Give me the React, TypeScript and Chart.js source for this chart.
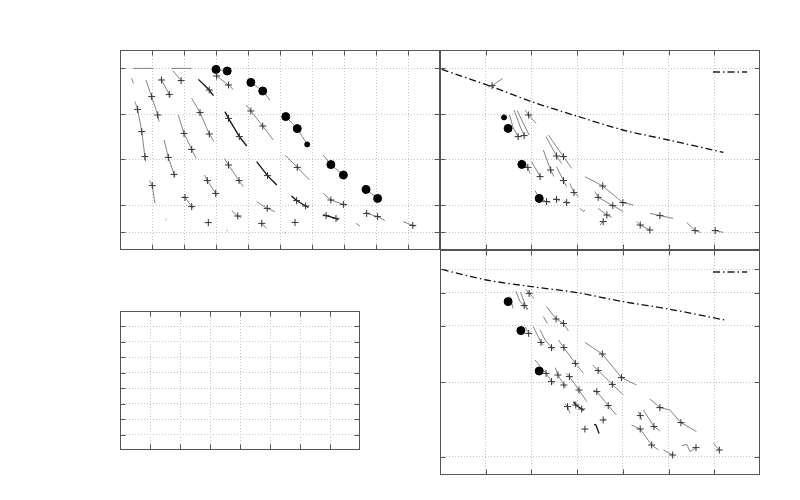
import React, { useEffect, useRef } from "react";
import { Chart, registerables } from "chart.js";
Chart.register(...registerables);

// marker codes: 0 none, 1 cross, 2 filled dot, 3 small dot
type Pt = [number, number, number];

const p1XTicks = [1, 2, 3, 4, 5, 6, 7, 8, 9];
const p1YTicks = [0.9, 2.25, 4.55, 6.8, 9.1];
const p2XTicks = [1, 2, 3, 4, 5, 6];
const p2YTicks = [0.9, 2.25, 4.55, 6.8, 9.1];
const p3XTicks = [1, 2, 3, 4, 5, 6];
const p3YTicks = [0.92, 4.63, 7.47, 9.12, 10.28];
const p4XTicks = [1, 2, 3, 4, 5, 6, 7];
const p4YTicks = [1, 2, 3, 4, 5, 6, 7, 8];

const p1Tracks: Pt[][] = [
  [[1.65, 8.97, 0], [1.91, 8.47, 1]],
  [[1.61, 9.08, 0], [2.24, 9.08, 0]],
  [[0.42, 9.08, 0], [1.04, 9.08, 0]],
  [[0.36, 8.58, 0], [0.42, 8.33, 0]],
  [[1.25, 8.58, 0], [1.3, 8.5, 1], [1.54, 7.78, 1], [1.58, 7.67, 0]],
  [[0.81, 8.5, 0], [0.99, 7.67, 1], [1.18, 6.75, 1], [1.22, 6.42, 0]],
  [[0.47, 7.42, 0], [0.55, 7.03, 1], [0.68, 5.92, 1], [0.78, 4.67, 1], [0.8, 4.42, 0]],
  [[2.45, 8.53, 0], [2.79, 8.0, 1], [2.92, 7.72, 0]],
  [[3.0, 8.85, 0], [3.02, 8.7, 1], [3.39, 8.25, 1], [3.54, 8.03, 0]],
  [[2.24, 7.58, 0], [2.5, 6.87, 1], [2.79, 5.8, 1], [2.94, 5.42, 0]],
  [[1.82, 6.75, 0], [2.0, 5.83, 1], [2.24, 5.03, 1], [2.38, 4.58, 0]],
  [[3.28, 6.92, 0], [3.39, 6.58, 1], [3.73, 5.67, 1], [3.96, 5.2, 0]],
  [[3.94, 7.25, 0], [4.09, 6.95, 1], [4.46, 6.2, 1], [4.79, 5.5, 0]],
  [[1.38, 5.5, 0], [1.51, 4.63, 1], [1.69, 3.78, 1], [1.72, 3.67, 0]],
  [[0.92, 3.47, 0], [1.01, 3.22, 1], [1.09, 2.33, 0]],
  [[3.26, 4.58, 0], [3.39, 4.25, 1], [3.72, 3.47, 1], [3.85, 3.17, 0]],
  [[4.27, 4.42, 0], [4.61, 3.72, 1], [4.9, 3.25, 0]],
  [[5.16, 4.75, 0], [5.54, 4.13, 1], [5.92, 3.5, 0]],
  [[2.64, 3.75, 0], [2.73, 3.47, 1], [2.99, 2.83, 1], [3.04, 2.7, 0]],
  [[1.98, 2.67, 0], [2.03, 2.63, 1], [2.24, 2.17, 1], [2.29, 2.08, 0]],
  [[5.36, 2.7, 0], [5.52, 2.47, 1], [5.8, 2.2, 1], [5.89, 2.13, 0]],
  [[4.27, 2.42, 0], [4.6, 2.08, 1], [4.84, 1.92, 0]],
  [[6.35, 2.83, 0], [6.59, 2.5, 1], [6.98, 2.28, 1], [7.08, 2.22, 0]],
  [[3.49, 1.97, 0], [3.68, 1.7, 1], [3.8, 1.63, 0]],
  [[6.35, 1.75, 0], [6.44, 1.72, 1], [6.75, 1.58, 1], [6.82, 1.5, 0]],
  [[7.66, 1.87, 0], [7.71, 1.83, 1], [8.05, 1.67, 1], [8.28, 1.47, 0]],
  [[7.38, 1.33, 0], [7.5, 1.2, 0]],
  [[8.85, 1.42, 0], [9.15, 1.23, 1], [9.22, 1.17, 0]],
  [[2.76, 1.37, 1]],
  [[4.43, 1.33, 1], [4.58, 1.08, 0]],
  [[5.47, 1.38, 1]],
  [[3.33, 0.99, 0], [3.37, 0.95, 0]],
  [[5.14, 0.85, 0], [5.18, 0.89, 0]],
  [[1.42, 1.5, 0], [1.46, 1.56, 0]],
  [[3.0, 9.03, 2], [3.35, 8.95, 2]],
  [[4.09, 8.38, 2], [4.46, 7.95, 2], [4.69, 7.5, 0]],
  [[5.18, 6.67, 2], [5.54, 6.07, 2], [5.85, 5.28, 3]],
  [[6.35, 4.75, 0], [6.59, 4.27, 2], [6.98, 3.75, 2]],
  [[7.69, 3.03, 2], [8.05, 2.58, 2]],
];
const p1Bold = [7, 11, 16, 20, 24];

const p2Curve: [number, number][] = [
  [0.04, 9.03], [1.13, 8.17], [2.0, 7.42], [2.99, 6.7], [4.0, 6.0], [5.0, 5.5], [6.2, 4.88],
];
const p2Tracks: Pt[][] = [
  [[1.06, 8.15, 0], [1.14, 8.22, 1], [1.37, 8.58, 0]],
  [[1.4, 6.63, 3]],
  [[1.49, 6.08, 2]],
  [[1.52, 6.75, 0], [1.6, 6.13, 0], [1.71, 5.67, 1]],
  [[1.62, 7.0, 0], [1.75, 6.2, 0], [1.84, 5.72, 1]],
  [[1.86, 7.0, 0], [1.94, 6.75, 1], [2.1, 6.33, 0]],
  [[1.69, 6.97, 0], [1.84, 6.25, 0], [1.95, 5.75, 0]],
  [[2.32, 5.67, 0], [2.55, 4.7, 1], [2.66, 4.33, 0]],
  [[2.37, 5.75, 0], [2.7, 4.67, 1], [2.88, 4.08, 0]],
  [[2.26, 5.0, 0], [2.42, 4.0, 1], [2.49, 3.67, 0]],
  [[2.55, 4.17, 0], [2.7, 3.47, 1], [2.77, 3.17, 0]],
  [[1.79, 4.28, 2]],
  [[1.75, 4.5, 0], [1.92, 4.13, 1], [1.97, 3.83, 0]],
  [[2.0, 4.42, 0], [2.11, 4.0, 0], [2.19, 3.67, 1]],
  [[2.84, 3.33, 0], [2.93, 2.87, 1], [3.03, 2.67, 0]],
  [[3.06, 2.08, 0], [3.14, 1.92, 0], [3.17, 2.0, 0]],
  [[2.08, 2.97, 0], [2.17, 2.58, 2], [2.33, 2.42, 1], [2.42, 2.38, 0]],
  [[2.5, 2.58, 0], [2.55, 2.53, 1], [2.62, 2.45, 0]],
  [[2.72, 2.45, 0], [2.77, 2.37, 1], [2.82, 2.33, 0]],
  [[3.17, 3.67, 0], [3.56, 3.2, 1], [4.0, 2.37, 1], [4.23, 2.25, 0]],
  [[3.39, 2.92, 0], [3.46, 2.63, 1], [3.78, 2.22, 1], [4.01, 1.92, 0]],
  [[3.46, 2.08, 0], [3.65, 1.75, 1], [3.76, 1.63, 0]],
  [[3.5, 1.25, 0], [3.57, 1.42, 1]],
  [[4.59, 1.83, 0], [4.81, 1.72, 1], [5.1, 1.58, 0]],
  [[4.3, 1.42, 0], [4.38, 1.25, 1], [4.59, 1.0, 1]],
  [[5.4, 1.37, 0], [5.58, 0.97, 1], [5.7, 0.88, 0]],
  [[6.02, 0.97, 1], [6.2, 0.88, 0]],
];
const p2Bold: number[] = [];

const p3Curve: [number, number][] = [
  [0.04, 10.28], [1.02, 9.75], [2.0, 9.42], [2.99, 9.12], [4.0, 8.67], [5.0, 8.3], [6.23, 7.75],
];
const p3Tracks: Pt[][] = [
  [[1.49, 8.67, 2]],
  [[1.77, 7.22, 2]],
  [[2.17, 5.2, 2]],
  [[1.88, 9.28, 0], [1.95, 9.08, 1], [2.06, 8.83, 0]],
  [[1.66, 9.2, 0], [1.75, 8.67, 0], [1.84, 8.47, 1], [1.93, 8.3, 0]],
  [[1.53, 8.92, 0], [1.6, 8.33, 0]],
  [[1.76, 9.13, 0], [1.91, 8.25, 0]],
  [[2.33, 8.42, 0], [2.54, 7.8, 1], [2.7, 7.58, 1], [2.81, 7.2, 0]],
  [[2.26, 7.92, 0], [2.35, 7.58, 0]],
  [[1.86, 7.42, 0], [1.94, 7.08, 1]],
  [[2.04, 7.42, 0], [2.13, 7.0, 0], [2.21, 6.63, 1], [2.26, 6.5, 0]],
  [[2.19, 7.25, 0], [2.3, 6.75, 0], [2.44, 6.37, 1], [2.49, 6.25, 0]],
  [[2.59, 6.75, 0], [2.71, 6.37, 1], [2.96, 5.58, 1], [3.14, 5.08, 0]],
  [[3.17, 6.63, 0], [3.55, 6.05, 1], [3.97, 4.87, 1], [4.3, 4.5, 0]],
  [[3.34, 5.5, 0], [3.46, 5.22, 1], [3.77, 4.53, 1], [4.01, 4.0, 0]],
  [[2.08, 5.75, 0], [2.32, 5.08, 1], [2.44, 4.67, 1], [2.49, 4.53, 0]],
  [[2.52, 5.37, 0], [2.58, 5.0, 1], [2.71, 4.5, 1], [2.76, 4.37, 0]],
  [[2.76, 5.08, 0], [2.83, 4.92, 1], [3.04, 4.25, 1], [3.21, 3.67, 0]],
  [[3.35, 4.25, 0], [3.43, 4.17, 1], [3.68, 3.47, 1], [3.86, 3.0, 0]],
  [[2.73, 3.58, 0], [2.79, 3.42, 1], [2.84, 3.08, 0]],
  [[2.92, 3.67, 0], [2.97, 3.5, 1], [3.1, 3.3, 1], [3.14, 3.23, 0]],
  [[3.17, 2.3, 1]],
  [[3.37, 2.53, 0], [3.41, 2.5, 0], [3.48, 2.08, 0]],
  [[3.57, 2.75, 1], [3.62, 2.8, 0]],
  [[4.34, 3.17, 0], [4.38, 2.97, 1], [4.41, 2.75, 0]],
  [[4.45, 3.25, 0], [4.68, 2.42, 1], [4.81, 2.2, 0]],
  [[4.19, 2.5, 0], [4.38, 2.3, 1], [4.63, 1.5, 1], [4.78, 1.25, 0]],
  [[4.59, 3.8, 0], [4.81, 3.37, 1], [5.03, 3.25, 0], [5.27, 2.62, 1], [5.61, 2.17, 0]],
  [[4.89, 1.25, 0], [5.09, 1.0, 1]],
  [[5.29, 1.47, 0], [5.4, 1.53, 0], [5.47, 1.17, 0], [5.6, 1.37, 1]],
  [[5.98, 1.58, 0], [6.11, 1.25, 1]],
];
const p3Bold = [20, 22];

type PanelSpec = {
  left: number; top: number; w: number; h: number;
  xMax: number; yMax: number;
  xTicks: number[]; yTicks: number[];
  tracks: Pt[][]; bold: number[];
  curve?: [number, number][];
};

const PAD = 6;

const framePlugin = {
  id: "frameTicks",
  afterDraw(chart: any, _a: any, opts: any) {
    const { ctx, chartArea: a, scales } = chart;
    ctx.save();
    ctx.strokeStyle = "#555";
    ctx.lineWidth = 1;
    const L = Math.round(a.left) + 0.5, T = Math.round(a.top) + 0.5;
    const R = Math.round(a.right) - 0.5, B = Math.round(a.bottom) - 0.5;
    ctx.strokeRect(L, T, R - L, B - T);
    ctx.beginPath();
    for (const t of scales.x.ticks) {
      const px = Math.round(scales.x.getPixelForValue(t.value)) + 0.5;
      ctx.moveTo(px, T); ctx.lineTo(px, T + 5);
      ctx.moveTo(px, B); ctx.lineTo(px, B - 5);
    }
    for (const t of scales.y.ticks) {
      const py = Math.round(scales.y.getPixelForValue(t.value)) + 0.5;
      ctx.moveTo(L, py); ctx.lineTo(L + 5, py);
      ctx.moveTo(R, py); ctx.lineTo(R - 5, py);
    }
    ctx.stroke();
    if (opts && opts.legend) {
      ctx.strokeStyle = "#222";
      ctx.lineWidth = 1.3;
      ctx.setLineDash([7, 3, 1.5, 3]);
      ctx.beginPath();
      ctx.moveTo(a.right - 47, a.top + 22);
      ctx.lineTo(a.right - 13, a.top + 22);
      ctx.stroke();
    }
    ctx.restore();
  },
};

function buildDatasets(spec: PanelSpec) {
  const ds: any[] = spec.tracks.map((tr, i) => {
    const bold = spec.bold.includes(i);
    return {
      type: "scatter",
      showLine: true,
      data: tr.map(([x, y]) => ({ x, y })),
      borderColor: bold ? "#111" : "#777",
      borderWidth: bold ? 1.3 : 0.9,
      pointStyle: tr.map((p) => (p[2] === 1 ? "cross" : "circle")),
      pointRadius: tr.map((p) => (p[2] === 1 ? 3.5 : p[2] === 2 ? 4 : p[2] === 3 ? 2.5 : 0)),
      pointBorderColor: tr.map((p) => (p[2] === 1 ? "#333" : "#000")),
      pointBackgroundColor: "#000",
      pointBorderWidth: 1,
      tension: 0,
    };
  });
  if (spec.curve) {
    ds.push({
      type: "scatter",
      showLine: true,
      data: spec.curve.map(([x, y]) => ({ x, y })),
      borderColor: "#111",
      borderWidth: 1.3,
      borderDash: [7, 3, 1.5, 3],
      pointRadius: 0,
      tension: 0.3,
    });
  }
  return ds;
}

function Panel({ spec }: { spec: PanelSpec }) {
  const ref = useRef<HTMLCanvasElement>(null);
  useEffect(() => {
    const axis = (max: number, ticks: number[]) => ({
      type: "linear",
      min: 0,
      max,
      afterBuildTicks: (s: any) => {
        s.ticks = ticks.map((v) => ({ value: v }));
      },
      ticks: { display: false },
      grid: { color: "#c4c4c4", lineWidth: 1, drawTicks: false },
      border: { display: false, dash: [1, 2] },
    });
    const chart = new Chart(ref.current!, {
      type: "scatter",
      data: { datasets: buildDatasets(spec) },
      options: {
        responsive: false,
        animation: false,
        layout: { padding: PAD },
        plugins: {
          legend: { display: false },
          tooltip: { enabled: false },
          frameTicks: { legend: !!spec.curve },
        } as any,
        scales: {
          x: axis(spec.xMax, spec.xTicks) as any,
          y: axis(spec.yMax, spec.yTicks) as any,
        },
      },
      plugins: [framePlugin],
    });
    return () => chart.destroy();
  }, []);
  return (
    <canvas
      ref={ref}
      width={spec.w + 2 * PAD}
      height={spec.h + 2 * PAD}
      style={{
        position: "absolute",
        left: spec.left - PAD,
        top: spec.top - PAD,
        width: spec.w + 2 * PAD,
        height: spec.h + 2 * PAD,
      }}
    />
  );
}

const panels: PanelSpec[] = [
  { left: 120, top: 50, w: 320, h: 200, xMax: 10, yMax: 10, xTicks: p1XTicks, yTicks: p1YTicks, tracks: p1Tracks, bold: p1Bold },
  { left: 440, top: 50, w: 320, h: 200, xMax: 7, yMax: 10, xTicks: p2XTicks, yTicks: p2YTicks, tracks: p2Tracks, bold: p2Bold, curve: p2Curve },
  { left: 440, top: 250, w: 320, h: 225, xMax: 7, yMax: 11.25, xTicks: p3XTicks, yTicks: p3YTicks, tracks: p3Tracks, bold: p3Bold, curve: p3Curve },
  { left: 120, top: 311, w: 240, h: 139, xMax: 8, yMax: 9, xTicks: p4XTicks, yTicks: p4YTicks, tracks: [], bold: [] },
];

export default function App() {
  return (
    <div style={{ position: "fixed", left: 0, top: 0, width: 800, height: 500, background: "#fff" }}>
      {panels.map((p, i) => (
        <Panel key={i} spec={p} />
      ))}
    </div>
  );
}
